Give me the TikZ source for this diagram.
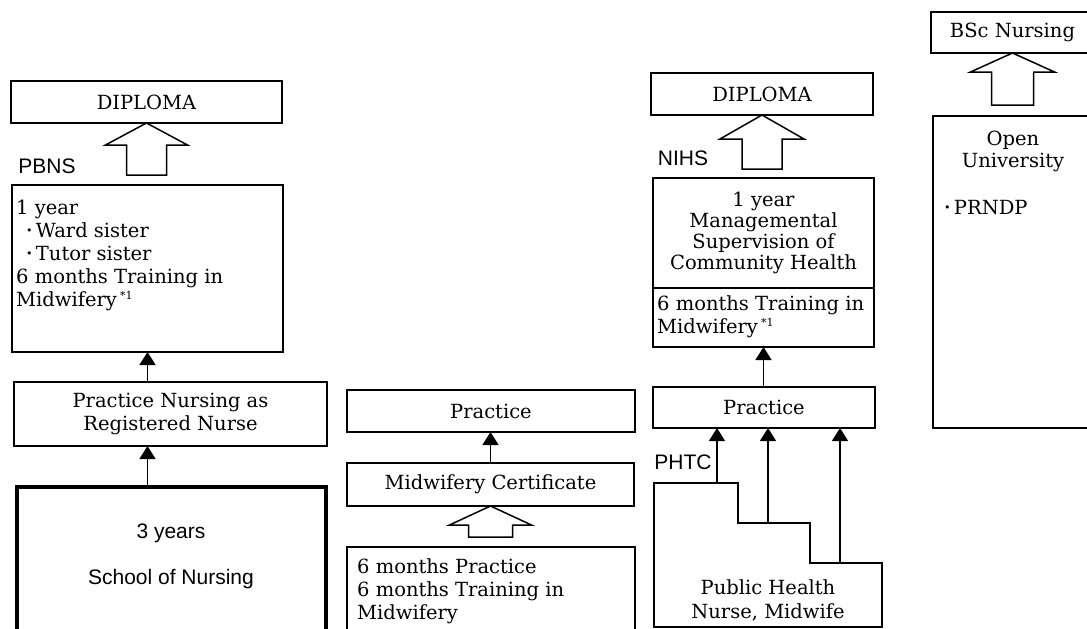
\documentclass[tikz,border=0pt]{standalone}
\usepackage{fontspec}
\setmainfont{DejaVu Serif}
\setsansfont{Liberation Sans}
\usetikzlibrary{arrows.meta,calc}
\newcommand\sertxt{\rmfamily\fontsize{19.5}{23}\selectfont}
\newcommand\santxt{\sffamily\fontsize{21}{24}\selectfont}
\newcommand\bul{\raisebox{3pt}{\fontsize{11}{11}\selectfont•}\,}
\newcommand\sups{\,\raisebox{7pt}{\fontsize{11}{11}\selectfont *1}}
\newcommand\hollowup[5]{%
  \draw[hollow] (#1) -- ++(#2,#3) -- ++({#4-#2},0) -- ++(0,{#5-#3}) -- ++({-2*#4},0)
    -- ++(0,{#3-#5}) -- ++({#4-#2},0) -- cycle;}
\begin{document}
\begin{tikzpicture}[x=1pt,y=-1pt,
  box/.style={draw, line width=1.5pt, rectangle, inner sep=0pt, outer sep=0pt, align=center, font=\sertxt},
  lbl/.style={font=\santxt, inner sep=0pt},
  txt/.style={font=\sertxt, inner sep=0pt, align=left, anchor=north west},
  conn/.style={line width=1.5pt, -{Triangle[length=13pt,width=16pt]}},
  hollow/.style={draw, line width=1.5pt, line join=miter}]
\useasboundingbox (0,0) rectangle (1087,629);
\clip (0,0) rectangle (1087,629);

% ---------- left column ----------
\node[box, minimum width=271pt, minimum height=42pt] (dip1) at (146.5,102) {DIPLOMA};
\hollowup{dip1.south}{41}{22}{20}{52}
\node[lbl] (pbns) at (47,166) {PBNS};
\node[box, minimum width=271pt, minimum height=167pt] (yr1) at (147.5,268.5) {};
\node[txt] (yr1t) at (16,200) {1 year\\\hspace*{10pt}\bul Ward sister\\\hspace*{10pt}\bul Tutor sister\\6 months Training in\\Midwifery\sups};
\node[box, minimum width=313pt, minimum height=64pt] (pn) at (170.5,414) {Practice Nursing as\\Registered Nurse};
\node[box, line width=4.5pt, minimum width=309pt, minimum height=170pt, anchor=north west] (school) at (17,487) {};
\node[lbl, align=center] (schoolt) at (171,556) {3 years\\[22pt]School of Nursing};
\draw[conn] (yr1.south |- pn.north) -- (yr1.south);
\draw[conn] (yr1.south |- school.north) -- (yr1.south |- pn.south);

% ---------- middle column ----------
\node[box, minimum width=288pt, minimum height=42pt] (prac2) at (491,411) {Practice};
\node[box, minimum width=287pt, minimum height=43pt] (cert) at (490.5,484.5) {Midwifery Certificate};
\draw[conn] (cert.north) -- (cert.north |- prac2.south);
\hollowup{cert.south}{41}{19}{22}{31}
\node[box, minimum width=288pt, minimum height=110pt, anchor=north west] (mid) at (347,547) {};
\node[txt] (midt) at (357,558) {6 months Practice\\6 months Training in\\Midwifery};

% ---------- NIHS column ----------
\node[box, minimum width=222pt, minimum height=42pt] (dip3) at (762,94) {DIPLOMA};
\hollowup{dip3.south}{42}{24}{20}{54}
\node[lbl] (nihs) at (683,158) {NIHS};
\node[box, minimum width=221pt, minimum height=110pt, anchor=north west, font=\rmfamily\fontsize{19.5}{21}\selectfont] (nihsA) at (653,178) {1 year\\Managemental\\Supervision of\\Community Health};
\node[box, minimum width=221pt, minimum height=59pt, anchor=north west] (nihsB) at (653,288) {};
\node[txt] (nihsBt) at (657,295) {6 months Training in\\Midwifery\sups};
\node[box, minimum width=222pt, minimum height=41pt, anchor=north west] (prac3) at (653,387) {Practice};
\draw[conn] (nihsB.south |- prac3.north) -- (nihsB.south);
\draw[line width=1.5pt] (654,483) -- (738,483) -- (738,523) -- (810,523) -- (810,563) -- (882,563) -- (882,627) -- (654,627) -- cycle;
\coordinate (st1) at (717,483);
\coordinate (st2) at (768,523);
\coordinate (st3) at (840,563);
\draw[conn] (st1) -- (st1 |- prac3.south);
\draw[conn] (st2) -- (st2 |- prac3.south);
\draw[conn] (st3) -- (st3 |- prac3.south);
\node[lbl] (phtc) at (683,462) {PHTC};
\node[font=\rmfamily\fontsize{19.5}{24}\selectfont, align=center, inner sep=0pt] (phn) at (768,600) {Public Health\\Nurse, Midwife};

% ---------- far right ----------
\node[box, minimum width=163pt, minimum height=41pt] (bsc) at (1012.5,32.5) {BSc Nursing};
\hollowup{bsc.south}{42}{19}{21}{52}
\node[box, minimum width=161pt, minimum height=312pt, anchor=north west] (ou) at (933,116) {};
\node[font=\rmfamily\fontsize{19.5}{22}\selectfont, align=center, inner sep=0pt] (out) at (1013,151) {Open\\University};
\node[txt] (prndp) at (944,200) {\bul PRNDP};
\end{tikzpicture}
\end{document}
